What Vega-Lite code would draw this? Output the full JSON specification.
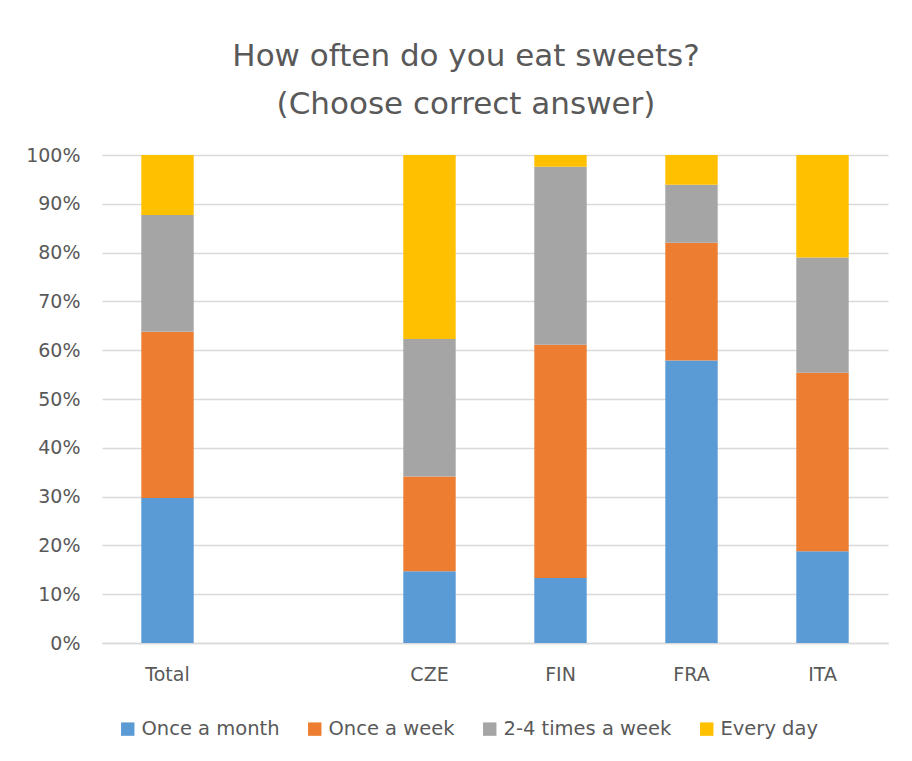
{
  "$schema": "https://vega.github.io/schema/vega-lite/v6.json",
  "width": 786,
  "height": 488,
  "autosize": {"type": "none"},
  "padding": {"left": 102, "top": 155, "right": 24, "bottom": 118},
  "background": "white",
  "title": {
    "text": ["How often do you eat sweets?", "(Choose correct answer)"],
    "font": "DejaVu Sans",
    "fontSize": 31,
    "fontWeight": "normal",
    "color": "#595959",
    "lineHeight": 48,
    "anchor": "middle",
    "offset": 25,
    "dx": -29
  },
  "config": {
    "font": "DejaVu Sans",
    "view": {"stroke": null},
    "axis": {
      "labelFont": "DejaVu Sans",
      "labelFontSize": 19,
      "labelColor": "#595959",
      "gridColor": "#D9D9D9",
      "gridWidth": 1.3,
      "domainColor": "#D9D9D9",
      "domainWidth": 1.3,
      "ticks": false,
      "title": null
    },
    "legend": {
      "labelFont": "DejaVu Sans",
      "labelFontSize": 19.5,
      "labelColor": "#595959",
      "labelLimit": 400
    }
  },
  "data": {
    "values": [
      {"cat": "Total", "freq": "Once a month", "k": 1, "v": 29.7},
      {"cat": "Total", "freq": "Once a week", "k": 2, "v": 34.1},
      {"cat": "Total", "freq": "2-4 times a week", "k": 3, "v": 23.9},
      {"cat": "Total", "freq": "Every day", "k": 4, "v": 12.3},
      {"cat": "CZE", "freq": "Once a month", "k": 1, "v": 14.7},
      {"cat": "CZE", "freq": "Once a week", "k": 2, "v": 19.4},
      {"cat": "CZE", "freq": "2-4 times a week", "k": 3, "v": 28.2},
      {"cat": "CZE", "freq": "Every day", "k": 4, "v": 37.7},
      {"cat": "FIN", "freq": "Once a month", "k": 1, "v": 13.3},
      {"cat": "FIN", "freq": "Once a week", "k": 2, "v": 47.8},
      {"cat": "FIN", "freq": "2-4 times a week", "k": 3, "v": 36.5},
      {"cat": "FIN", "freq": "Every day", "k": 4, "v": 2.4},
      {"cat": "FRA", "freq": "Once a month", "k": 1, "v": 57.9},
      {"cat": "FRA", "freq": "Once a week", "k": 2, "v": 24.1},
      {"cat": "FRA", "freq": "2-4 times a week", "k": 3, "v": 11.9},
      {"cat": "FRA", "freq": "Every day", "k": 4, "v": 6.1},
      {"cat": "ITA", "freq": "Once a month", "k": 1, "v": 18.8},
      {"cat": "ITA", "freq": "Once a week", "k": 2, "v": 36.6},
      {"cat": "ITA", "freq": "2-4 times a week", "k": 3, "v": 23.6},
      {"cat": "ITA", "freq": "Every day", "k": 4, "v": 21.0}
    ]
  },
  "mark": {"type": "bar"},
  "encoding": {
    "x": {
      "field": "cat",
      "type": "nominal",
      "scale": {"domain": ["Total", " ", "CZE", "FIN", "FRA", "ITA"], "paddingInner": 0.6, "paddingOuter": 0.3},
      "axis": {"labelAngle": 0, "labelPadding": 22, "domain": true}
    },
    "y": {
      "field": "v",
      "type": "quantitative",
      "stack": "normalize",
      "scale": {"domain": [0, 1]},
      "axis": {"values": [0, 0.1, 0.2, 0.3, 0.4, 0.5, 0.6, 0.7, 0.8, 0.9, 1], "format": ".0%", "domain": false, "labelPadding": 22}
    },
    "color": {
      "field": "freq",
      "type": "nominal",
      "scale": {
        "domain": ["Once a month", "Once a week", "2-4 times a week", "Every day"],
        "range": ["#5B9BD5", "#ED7D31", "#A5A5A5", "#FFC000"]
      },
      "legend": {
        "title": null,
        "orient": "none",
        "direction": "horizontal",
        "legendX": 16,
        "legendY": 564,
        "symbolType": "square",
        "symbolSize": 180,
        "symbolStrokeWidth": 0,
        "labelOffset": 4,
        "columnPadding": 25
      }
    },
    "order": {"field": "k", "type": "quantitative"}
  }
}
